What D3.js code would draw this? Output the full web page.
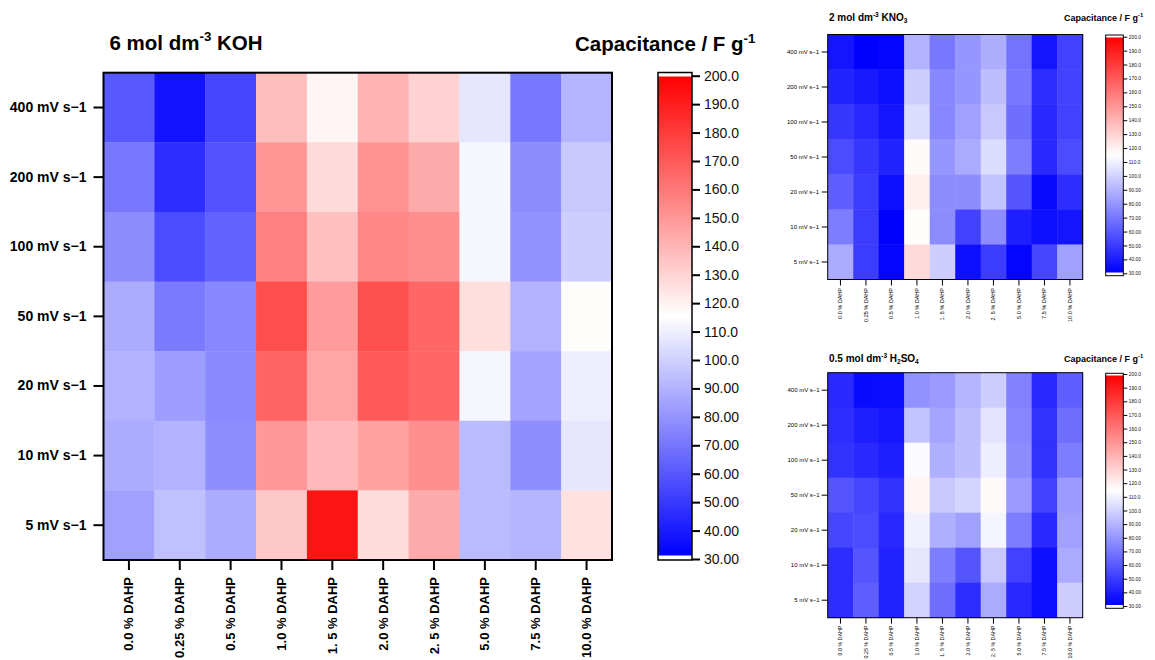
<!DOCTYPE html>
<html><head><meta charset="utf-8">
<script src="https://cdn.jsdelivr.net/npm/d3@7"></script>
<style>body{margin:0;background:#fff}svg{display:block;font-family:"Liberation Sans",Arial,sans-serif}</style>
</head><body><svg id="chart" width="1155" height="660"></svg>
<script>
// ---------- data ----------
const concentrations = ["0.0 % DAHP","0.25 % DAHP","0.5 % DAHP","1.0 % DAHP","1. 5 % DAHP","2.0 % DAHP","2. 5 % DAHP","5.0 % DAHP","7.5 % DAHP","10.0 % DAHP"];
const scanRates = ["400 mV s\u22121","200 mV s\u22121","100 mV s\u22121","50 mV s\u22121","20 mV s\u22121","10 mV s\u22121","5 mV s\u22121"];

// capacitance (F g-1), rows = scan rates (400 -> 5), columns = concentrations
const kohValues = [
  [59.3, 36.0, 53.4, 136.7, 118.4, 140.0, 130.0, 106.7, 70.0, 90.0],
  [70.0, 45.0, 57.4, 150.0, 127.3, 151.7, 143.3, 112.0, 76.7, 96.7],
  [76.7, 55.0, 62.7, 157.3, 136.0, 155.0, 152.7, 112.0, 78.3, 98.3],
  [87.3, 70.8, 75.0, 174.0, 148.3, 173.3, 166.0, 126.0, 89.3, 116.0],
  [89.3, 82.7, 76.0, 166.7, 145.0, 170.0, 166.0, 112.0, 84.0, 109.3],
  [87.3, 89.3, 77.3, 149.3, 138.3, 146.0, 152.7, 92.0, 77.3, 106.7],
  [83.3, 94.0, 87.3, 133.3, 193.3, 126.7, 143.3, 92.0, 90.0, 125.0]
];
const kno3Values = [
  [36.8, 30.0, 31.7, 89.3, 70.0, 80.0, 88.0, 68.3, 36.7, 51.7],
  [41.7, 38.3, 35.0, 98.3, 75.0, 80.0, 93.3, 70.0, 45.0, 51.7],
  [48.3, 43.3, 36.7, 103.3, 75.0, 83.3, 96.7, 66.7, 43.3, 51.7],
  [55.0, 48.3, 41.7, 116.7, 80.0, 86.7, 103.3, 71.7, 43.3, 55.0],
  [61.7, 50.0, 35.0, 120.0, 76.7, 76.7, 95.0, 58.3, 33.3, 45.0],
  [71.7, 50.0, 30.0, 116.0, 76.7, 51.7, 76.7, 40.0, 35.0, 36.7],
  [86.7, 50.0, 31.7, 127.3, 98.3, 35.0, 50.0, 31.7, 53.3, 83.3]
];
const h2so4Values = [
  [43.3, 33.3, 34.0, 78.3, 81.7, 90.0, 98.3, 73.3, 43.3, 61.7],
  [45.0, 40.0, 37.3, 95.0, 85.0, 93.3, 106.0, 75.0, 46.7, 66.7],
  [46.7, 43.3, 40.0, 113.3, 88.3, 93.3, 109.3, 76.7, 46.7, 71.7],
  [58.3, 53.3, 46.7, 118.3, 96.7, 100.7, 116.7, 81.7, 51.7, 81.7],
  [53.3, 55.0, 43.3, 110.0, 88.3, 83.3, 111.7, 71.7, 43.3, 83.3],
  [45.0, 58.3, 41.7, 106.7, 71.7, 58.3, 96.7, 51.7, 35.0, 86.7],
  [45.0, 61.7, 41.7, 100.0, 66.7, 45.0, 86.7, 43.3, 35.0, 98.3]
];
const colorbarTicks = [200,190,180,170,160,150,140,130,120,110,100,90,80,70,60,50,40,30];
const colorbarTickLabels = ["200.0","190.0","180.0","170.0","160.0","150.0","140.0","130.0","120.0","110.0","100.0","90.00","80.00","70.00","60.00","50.00","40.00","30.00"];
const colorDomain = [30, 115, 200];
const colorRange = ["#0000ff", "#ffffff", "#ff0000"];

// ---------- drawing ----------
const svg = d3.select("#chart");
const color = d3.scaleLinear().domain(colorDomain).range(colorRange);

function drawHeatmap(o, values) {
  const x = d3.scaleBand().domain(concentrations).range([o.x0, o.x1]);
  const y = d3.scaleBand().domain(scanRates).range([o.y0, o.y1]);
  const g = svg.append("g");
  const cells = [];
  scanRates.forEach((r, i) => concentrations.forEach((c, j) => cells.push({r, c, v: values[i][j]})));
  g.selectAll("rect.cell").data(cells).join("rect").attr("class", "cell")
    .attr("x", d => x(d.c)).attr("y", d => y(d.r))
    .attr("width", x.bandwidth() + 0.4).attr("height", y.bandwidth() + 0.4)
    .attr("fill", d => color(d.v));
  g.append("rect").attr("x", o.x0).attr("y", o.y0).attr("width", o.x1 - o.x0).attr("height", o.y1 - o.y0)
    .attr("fill", "none").attr("stroke", "#000").attr("stroke-width", o.border);

  const ax = g.append("g").attr("transform", `translate(0,${o.y1})`)
    .call(d3.axisBottom(x).tickSize(o.tick).tickSizeOuter(0));
  ax.select(".domain").remove();
  ax.selectAll(".tick line").attr("stroke", "#000").attr("stroke-width", o.tickW);
  ax.selectAll("text").attr("transform", "rotate(-90)").attr("text-anchor", "end")
    .attr("x", -(o.tick + o.pad)).attr("y", 0).attr("dy", "0.35em")
    .attr("fill", "#000").style("font-family", '"Liberation Sans",Arial,sans-serif')
    .style("font-size", o.xFont + "px").style("font-weight", o.weight);

  const ay = g.append("g").attr("transform", `translate(${o.x0},0)`)
    .call(d3.axisLeft(y).tickSize(o.tick).tickPadding(o.pad).tickSizeOuter(0));
  ay.select(".domain").remove();
  ay.selectAll(".tick line").attr("stroke", "#000").attr("stroke-width", o.tickW);
  ay.selectAll("text").attr("fill", "#000").style("font-family", '"Liberation Sans",Arial,sans-serif')
    .style("font-size", o.font + "px").style("font-weight", o.weight);
}

let gradCount = 0;
function drawColorbar(o) {
  const s = d3.scaleLinear().domain([30, 200]).range([o.t30, o.t200]);
  const id = "grad" + (gradCount++);
  const grad = svg.append("defs").append("linearGradient").attr("id", id)
    .attr("gradientUnits", "userSpaceOnUse").attr("x1", 0).attr("x2", 0).attr("y1", o.g200).attr("y2", o.g30);
  const stops = d3.range(200, 29, -5);
  grad.selectAll("stop").data(stops).join("stop")
    .attr("offset", d => (200 - d) / 170).attr("stop-color", d => color(d));
  const g = svg.append("g");
  g.append("rect").attr("x", o.x0).attr("y", o.b0).attr("width", o.x1 - o.x0).attr("height", o.b1 - o.b0).attr("fill", "#fff");
  g.append("rect").attr("x", o.x0).attr("y", o.g200).attr("width", o.x1 - o.x0).attr("height", o.g30 - o.g200).attr("fill", `url(#${id})`);
  g.append("rect").attr("x", o.x0).attr("y", o.b0).attr("width", o.x1 - o.x0).attr("height", o.b1 - o.b0)
    .attr("fill", "none").attr("stroke", "#000").attr("stroke-width", o.border);
  const ax = g.append("g").attr("transform", `translate(${o.x1},0)`)
    .call(d3.axisRight(s).tickValues(colorbarTicks).tickFormat((d, i) => colorbarTickLabels[i]).tickSize(o.tick).tickPadding(o.pad));
  ax.select(".domain").remove();
  ax.selectAll(".tick line").attr("stroke", "#000").attr("stroke-width", o.tickW);
  ax.selectAll("text").attr("fill", "#111").style("font-family", '"Liberation Sans",Arial,sans-serif')
    .style("font-size", o.font + "px");
}

function label(x, y, size, parts) {
  const t = svg.append("text").attr("x", x).attr("y", y).style("font-size", size + "px").style("font-weight", "bold").attr("fill", "#000");
  let shift = 0;
  parts.forEach(p => {
    const target = p.sup ? -size * 0.4 : p.sub ? size * 0.25 : 0;
    const ts = t.append("tspan").text(p.t).attr("dy", target - shift);
    if (p.sup || p.sub) ts.style("font-size", (size * 0.65) + "px");
    shift = target;
  });
}

// main KOH panel
drawHeatmap({x0: 103.5, x1: 612, y0: 72.7, y1: 560, border: 2, tick: 10, tickW: 2, pad: 7, font: 14, xFont: 13, weight: "bold"}, kohValues);
drawColorbar({x0: 658, x1: 692, b0: 72.5, b1: 560, g200: 76.5, g30: 555.5, t200: 75.7, t30: 559, tick: 8, tickW: 2, pad: 4, font: 14, border: 1.5});
label(109.5, 49.5, 20.5, [{t: "6 mol dm"}, {t: "-3", sup: true}, {t: " KOH"}]);
label(575, 50.7, 20.5, [{t: "Capacitance / F g"}, {t: "-1", sup: true}]);

// KNO3 panel
drawHeatmap({x0: 827.7, x1: 1082.7, y0: 34.5, y1: 279.5, border: 1, tick: 6, tickW: 1, pad: 2.5, font: 6, xFont: 5.5, weight: "normal"}, kno3Values);
drawColorbar({x0: 1105.7, x1: 1123.3, b0: 35, b1: 275.7, g200: 37.5, g30: 272.5, t200: 36.7, t30: 273.3, tick: 4, tickW: 1, pad: 1.5, font: 4.8, border: 1});
label(829, 20.5, 10, [{t: "2 mol dm"}, {t: "-3", sup: true}, {t: " KNO"}, {t: "3", sub: true}]);
label(1064, 20.5, 9, [{t: "Capacitance / F g"}, {t: "-1", sup: true}]);

// H2SO4 panel
drawHeatmap({x0: 827.7, x1: 1082.7, y0: 372.7, y1: 617.7, border: 1, tick: 6, tickW: 1, pad: 2, font: 6, xFont: 5.3, weight: "normal"}, h2so4Values);
drawColorbar({x0: 1105.7, x1: 1123.3, b0: 373.3, b1: 608.3, g200: 375.5, g30: 605, t200: 374, t30: 606, tick: 4, tickW: 1, pad: 1.5, font: 4.8, border: 1});
label(829, 361.5, 10, [{t: "0.5 mol dm"}, {t: "-3", sup: true}, {t: " H"}, {t: "2", sub: true}, {t: "SO"}, {t: "4", sub: true}]);
label(1064, 361.5, 9, [{t: "Capacitance / F g"}, {t: "-1", sup: true}]);
</script></body></html>
